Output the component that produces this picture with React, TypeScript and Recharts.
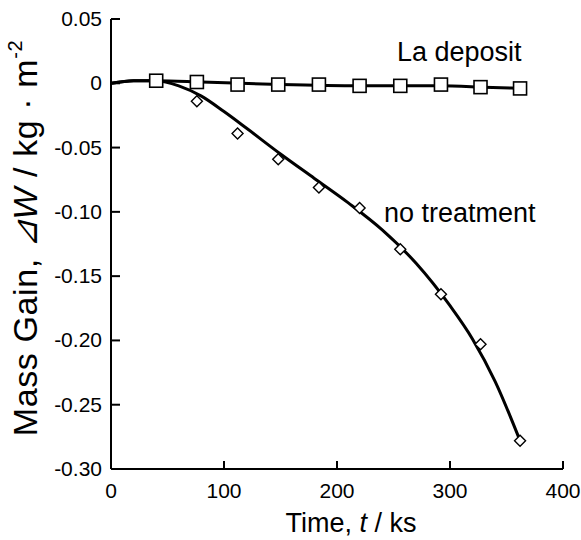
import { ComposedChart, Line, Scatter, XAxis, YAxis } from 'recharts';

// measured points (ks, kg/m2)
const timeKs = [40, 76, 112, 148, 184, 220, 256, 292, 327, 362];
const laDeposit = [0.002, 0.001, -0.001, -0.001, -0.001, -0.002, -0.002, -0.001, -0.003, -0.004];
const noTreatment = [0.002, -0.014, -0.039, -0.059, -0.081, -0.097, -0.129, -0.164, -0.203, -0.278];

// fitted curves
const laFitTime = [0, 20, 40, 80, 150, 220, 290, 330, 362];
const laFitValue = [0.0, 0.002, 0.002, 0.001, -0.001, -0.002, -0.002, -0.003, -0.004];
const ntFitTime = [0, 20, 40, 60, 80, 100, 120, 150, 180, 210, 240, 270, 300, 320, 340, 362];
const ntFitValue = [0.0, 0.002, 0.002, -0.002, -0.01, -0.022, -0.035, -0.055, -0.074, -0.093, -0.114, -0.14, -0.173, -0.199, -0.232, -0.278];

const xTicks = [0, 100, 200, 300, 400];
const yTicks = [0.05, 0, -0.05, -0.1, -0.15, -0.2, -0.25, -0.3];

const FONT = '"Liberation Sans", Arial, Helvetica, sans-serif';

const laPoints = timeKs.map((t, i) => ({ t, v: laDeposit[i] }));
const ntPoints = timeKs.map((t, i) => ({ t, v: noTreatment[i] }));
const laFit = laFitTime.map((t, i) => ({ t, v: laFitValue[i] }));
const ntFit = ntFitTime.map((t, i) => ({ t, v: ntFitValue[i] }));

const fmtY = (v: number) => (Math.abs(v) < 1e-9 ? '0' : v.toFixed(2));

const BottomTick = ({ x, y, payload }: any) => (
  <g>
    <line x1={x} y1={y} x2={x} y2={y - 8} stroke="#000" strokeWidth={2} />
    <text x={x} y={y + 29} textAnchor="middle" fontSize={21} fontFamily={FONT} fill="#000">
      {payload.value}
    </text>
  </g>
);

const TopTick = ({ x, y }: any) => (
  <line x1={x} y1={y} x2={x} y2={y + 8} stroke="#000" strokeWidth={2} />
);

const LeftTick = ({ x, y, payload }: any) => (
  <g>
    <line x1={x} y1={y} x2={x + 9} y2={y} stroke="#000" strokeWidth={2} />
    <text x={x - 9} y={y + 7} textAnchor="end" fontSize={21} fontFamily={FONT} fill="#000">
      {fmtY(payload.value)}
    </text>
  </g>
);

const RightTick = ({ x, y }: any) => (
  <line x1={x} y1={y} x2={x - 9} y2={y} stroke="#000" strokeWidth={2} />
);

const Square = ({ cx, cy }: any) => (
  <rect x={cx - 6.5} y={cy - 6.5} width={13} height={13} fill="#fff" stroke="#000" strokeWidth={1.6} />
);

const Diamond = ({ cx, cy }: any) => (
  <polygon
    points={`${cx},${cy - 5.5} ${cx + 5.5},${cy} ${cx},${cy + 5.5} ${cx - 5.5},${cy}`}
    fill="#fff"
    stroke="#000"
    strokeWidth={1.4}
  />
);

export default function App() {
  return (
    <div style={{ position: 'absolute', left: 0, top: 0, background: '#fff' }}>
      <ComposedChart width={581} height={540} margin={{ top: 19, right: 18, bottom: 0, left: 0 }}>
        <XAxis
          xAxisId="b"
          dataKey="t"
          type="number"
          domain={[0, 400]}
          ticks={xTicks}
          height={71}
          tickSize={0}
          tickMargin={0}
          tickLine={false}
          tick={<BottomTick />}
          axisLine={{ stroke: '#000', strokeWidth: 2 }}
          allowDataOverflow
        />
        <XAxis
          xAxisId="t"
          orientation="top"
          dataKey="t"
          type="number"
          domain={[0, 400]}
          ticks={xTicks}
          height={0}
          tickSize={0}
          tickMargin={0}
          tickLine={false}
          tick={<TopTick />}
          axisLine={{ stroke: '#000', strokeWidth: 2 }}
          allowDataOverflow
        />
        <YAxis
          yAxisId="l"
          type="number"
          domain={[-0.3, 0.05]}
          ticks={yTicks}
          width={111}
          tickSize={0}
          tickMargin={0}
          tickLine={false}
          tick={<LeftTick />}
          axisLine={{ stroke: '#000', strokeWidth: 2 }}
          allowDataOverflow
        />
        <YAxis
          yAxisId="r"
          orientation="right"
          type="number"
          domain={[-0.3, 0.05]}
          ticks={yTicks}
          width={0}
          tickSize={0}
          tickMargin={0}
          tickLine={false}
          tick={<RightTick />}
          axisLine={{ stroke: '#000', strokeWidth: 2 }}
          allowDataOverflow
        />
        <Line
          xAxisId="b"
          yAxisId="l"
          data={laFit}
          dataKey="v"
          type="monotone"
          stroke="#000"
          strokeWidth={3}
          dot={false}
          isAnimationActive={false}
        />
        <Line
          xAxisId="b"
          yAxisId="l"
          data={ntFit}
          dataKey="v"
          type="monotone"
          stroke="#000"
          strokeWidth={3}
          dot={false}
          isAnimationActive={false}
        />
        <Scatter xAxisId="b" yAxisId="l" data={ntPoints} dataKey="v" shape={<Diamond />} isAnimationActive={false} />
        <Scatter xAxisId="b" yAxisId="l" data={laPoints} dataKey="v" shape={<Square />} isAnimationActive={false} />
        <text x={397} y={61} fontSize={27} fontFamily={FONT} fill="#000">
          La deposit
        </text>
        <text x={384} y={222} fontSize={27} fontFamily={FONT} fill="#000">
          no treatment
        </text>
        <text x={351} y={532} textAnchor="middle" fontSize={27} fontFamily={FONT} fill="#000">
          Time, <tspan fontStyle="italic">t</tspan> / ks
        </text>
        <text
          x={37}
          y={238}
          transform="rotate(-90, 37, 238)"
          textAnchor="middle"
          fontSize={34}
          letterSpacing={0.6}
          fontFamily={FONT}
          fill="#000"
        >
          Mass Gain, <tspan fontStyle="italic">⊿W</tspan> / kg · m
          <tspan fontSize={20} dy={-15}>-2</tspan>
        </text>
      </ComposedChart>
    </div>
  );
}
